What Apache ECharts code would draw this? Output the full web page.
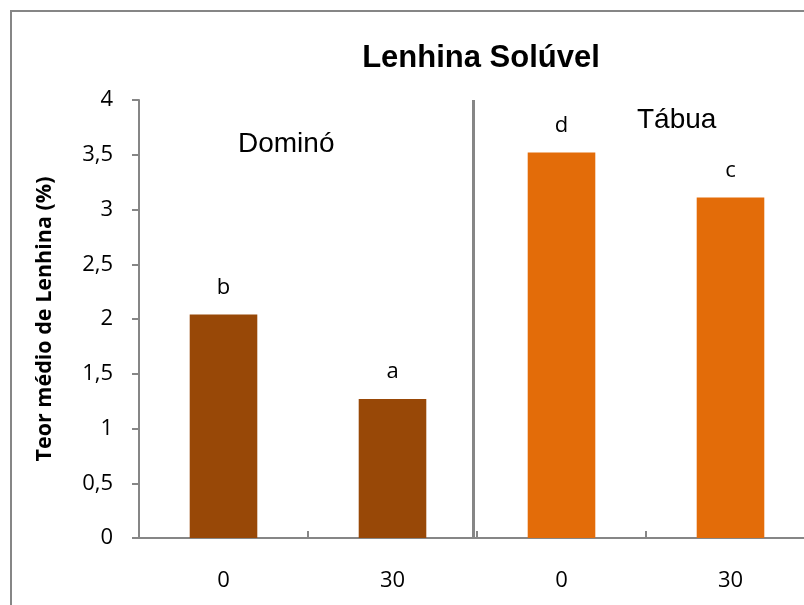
<!DOCTYPE html>
<html>
<head>
<meta charset="utf-8">
<script src="https://cdn.jsdelivr.net/npm/echarts@6/dist/echarts.min.js"></script>
<style>
  html, body { margin: 0; padding: 0; background: #ffffff; overflow: hidden; width: 804px; height: 605px; }
  #chart { width: 830px; height: 605px; }
</style>
</head>
<body>
<div id="chart"></div>
<script>
// Dose categories along the x axis (two species, two doses each)
const categories = ['0', '30', '0', '30'];
// Mean soluble lignin content (%)
const values = [2.04, 1.27, 3.52, 3.11];
// Significance letters shown above the bars
const letters = ['b', 'a', 'd', 'c'];
// Species group of each bar
const groups = ['Dominó', 'Dominó', 'Tábua', 'Tábua'];
const groupNames = ['Dominó', 'Tábua'];
const groupColors = { 'Dominó': '#984807', 'Tábua': '#E36C09' };
// Y axis tick values
const yTicks = [0, 0.5, 1, 1.5, 2, 2.5, 3, 3.5, 4];

const axisGray = '#868686';
const chart = echarts.init(document.getElementById('chart'), null, { renderer: 'canvas' });

const option = {
  backgroundColor: '#ffffff',
  animation: false,
  title: {
    text: 'Lenhina Solúvel',
    left: 476,
    top: 38,
    textAlign: 'center',
    textStyle: {
      fontFamily: 'Liberation Sans, Arial, sans-serif',
      fontWeight: 'bold',
      fontSize: 31,
      color: '#000000'
    }
  },
  // plot area runs past the right edge of the visible page
  grid: { left: 139, right: 15, top: 100, bottom: 67, containLabel: false },
  xAxis: [{
    type: 'category',
    data: categories,
    axisLine: { show: true, lineStyle: { color: axisGray, width: 2 } },
    axisTick: { show: true, inside: true, length: 7, lineStyle: { color: axisGray, width: 2 } },
    axisLabel: {
      margin: 32,
      fontFamily: 'Open Sans, sans-serif',
      fontSize: 22,
      color: '#000000'
    },
    splitLine: { show: false }
  }, {
    // invisible continuous axis spanning the same categories, used for the group divider
    type: 'value',
    min: 0,
    max: categories.length,
    show: false
  }],
  yAxis: {
    type: 'value',
    min: yTicks[0],
    max: yTicks[yTicks.length - 1],
    interval: 0.5,
    name: 'Teor médio de Lenhina (%)',
    nameLocation: 'middle',
    nameGap: 83,
    nameTextStyle: {
      fontFamily: 'Open Sans, sans-serif',
      fontWeight: 'bold',
      fontSize: 21.5,
      color: '#000000'
    },
    axisLine: { show: true, lineStyle: { color: axisGray, width: 2 } },
    axisTick: { show: true, inside: false, length: 7, lineStyle: { color: axisGray, width: 2 } },
    axisLabel: {
      margin: 26,
      fontFamily: 'Open Sans, sans-serif',
      fontSize: 22,
      color: '#000000',
      formatter: v => String(v).replace('.', ',')
    },
    splitLine: { show: false }
  },
  series: [{
    type: 'bar',
    xAxisIndex: 0,
    barWidth: '40%',
    data: values.map((v, i) => ({
      value: v,
      itemStyle: { color: groupColors[groups[i]] }
    })),
    label: {
      show: true,
      position: 'top',
      distance: 16,
      fontFamily: 'Open Sans, sans-serif',
      fontSize: 22,
      color: '#000000',
      formatter: p => letters[p.dataIndex]
    }
  }, {
    type: 'line',
    xAxisIndex: 1,
    data: [],
    silent: true,
    markLine: {
      symbol: 'none',
      silent: true,
      label: { show: false },
      lineStyle: { color: axisGray, width: 3, type: 'solid' },
      data: [[{ coord: [1.976, 4] }, { coord: [1.976, 0] }]]
    }
  }],
  graphic: [{
    type: 'rect',
    shape: { x: 11, y: 11, width: 900, height: 700 },
    style: { fill: 'none', stroke: axisGray, lineWidth: 2 },
    silent: true,
    z: 100
  }, {
    type: 'text',
    left: 238,
    top: 130,
    style: {
      text: groupNames[0],
      fontFamily: 'Liberation Sans, Arial, sans-serif',
      fontSize: 28,
      fill: '#000000'
    }
  }, {
    type: 'text',
    left: 637,
    top: 106,
    style: {
      text: groupNames[1],
      fontFamily: 'Liberation Sans, Arial, sans-serif',
      fontSize: 28,
      fill: '#000000'
    }
  }]
};

chart.setOption(option);
</script>
</body>
</html>
